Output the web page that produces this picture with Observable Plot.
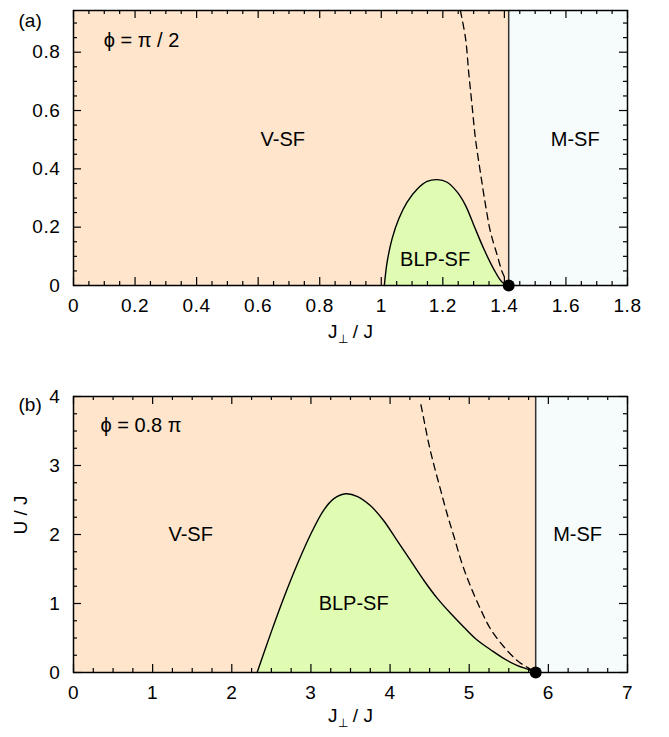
<!DOCTYPE html>
<html><head><meta charset="utf-8">
<script src="https://cdn.jsdelivr.net/npm/d3@7"></script>
<script src="https://cdn.jsdelivr.net/npm/@observablehq/plot@0.6"></script>
<style>
body{margin:0;background:#fff;}
#chart svg{display:block;}
#chart g[aria-label="x-axis tick label"] text,
#chart g[aria-label="y-axis tick label"] text{font-size:19px;letter-spacing:0.6px;}
</style>
</head><body><div id="chart"></div>
<script>
// ---------- Panel (a): phi = pi/2 ----------
const xDomainA = [0, 1.8];
const yDomainA = [0, 0.943];
const xTicksA = [0, 0.2, 0.4, 0.6, 0.8, 1, 1.2, 1.4, 1.6, 1.8];
const yTicksA = [0, 0.2, 0.4, 0.6, 0.8];
const xMinorStepA = 0.05;
const yMinorStepA = 0.05;
const boundaryA = 1.414;
const blpA_x = [1.010, 1.019, 1.035, 1.057, 1.084, 1.117, 1.149, 1.182, 1.214, 1.247, 1.274, 1.301, 1.333, 1.365, 1.393, 1.414];
const blpA_y = [0, 0.08, 0.16, 0.229, 0.286, 0.331, 0.357, 0.363, 0.354, 0.32, 0.274, 0.206, 0.126, 0.057, 0.011, 0];
const dashA_x = [1.257, 1.274, 1.284, 1.295, 1.306, 1.322, 1.339, 1.355, 1.377, 1.393, 1.414];
const dashA_y = [0.943, 0.846, 0.731, 0.617, 0.503, 0.388, 0.274, 0.183, 0.103, 0.046, 0];
const regionA_text = ["V-SF", "BLP-SF", "M-SF"];
const regionA_x = [0.68, 1.175, 1.63];
const regionA_y = [0.5, 0.09, 0.5];
const phiA_text = "ϕ = π / 2";
const phiA_pos = [0.098, 0.84];

// ---------- Panel (b): phi = 0.8 pi ----------
const xDomainB = [0, 7];
const yDomainB = [0, 4];
const xTicksB = [0, 1, 2, 3, 4, 5, 6, 7];
const yTicksB = [0, 1, 2, 3, 4];
const xMinorStepB = 0.25;
const yMinorStepB = 0.25;
const boundaryB = 5.84;
const blpB_x = [2.32, 2.49, 2.66, 2.83, 3.00, 3.16, 3.29, 3.44, 3.59, 3.75, 3.92, 4.09, 4.26, 4.43, 4.60, 4.77, 4.93, 5.10, 5.27, 5.44, 5.61, 5.76, 5.84];
const blpB_y = [0, 0.56, 1.09, 1.575, 2.01, 2.35, 2.52, 2.59, 2.55, 2.42, 2.20, 1.91, 1.62, 1.33, 1.07, 0.85, 0.66, 0.47, 0.33, 0.20, 0.10, 0.04, 0];
const dashB_x = [4.39, 4.43, 4.49, 4.56, 4.64, 4.72, 4.81, 4.91, 5.02, 5.15, 5.27, 5.44, 5.61, 5.74, 5.84];
const dashB_y = [3.88, 3.65, 3.31, 2.98, 2.64, 2.30, 1.96, 1.575, 1.24, 0.90, 0.63, 0.37, 0.17, 0.07, 0];
const regionB_text = ["V-SF", "BLP-SF", "M-SF"];
const regionB_x = [1.48, 3.54, 6.37];
const regionB_y = [2.0, 1.0, 2.0];
const phiB_text = "ϕ = 0.8 π";
const phiB_pos = [0.34, 3.58];

const xLabel = "J⊥ / J";
const yLabelB = "U / J";

const colVSF = "#fee5cb";
const colMSF = "#f6fcfc";
const colBLP = "#e0fbb2";
const FONT = "'Liberation Sans', Arial, Helvetica, sans-serif";

function minor(domain, step, majors) {
  const out = [];
  for (let v = domain[0]; v <= domain[1] + 1e-9; v += step) {
    const r = Math.round(v * 1000) / 1000;
    if (!majors.some(m => Math.abs(m - r) < 1e-6)) out.push(r);
  }
  return out;
}

function panel(cfg) {
  const W = 669, mL = 73, mR = 42;
  const plotW = W - mL - mR;
  const plotH = cfg.height - cfg.mT - cfg.mB;
  const blp = cfg.blpX.map((x, i) => ({x, y: cfg.blpY[i]}));
  const dash = cfg.dashX.map((x, i) => ({x, y: cfg.dashY[i]}));
  const regions = cfg.regText.map((t, i) => ({t, x: cfg.regX[i], y: cfg.regY[i]}));
  const xMin = minor(cfg.xDomain, cfg.xStep, cfg.xTicks);
  const yMin = minor(cfg.yDomain, cfg.yStep, cfg.yTicks);
  const xMaj = cfg.xTicks, yMaj = cfg.yTicks;
  const LM = 8, Lm = 4;
  const fmt = d => String(d);
  const marks = [
    Plot.rect([{x1: cfg.xDomain[0], x2: cfg.boundary, y1: cfg.yDomain[0], y2: cfg.yDomain[1]}], {x1: "x1", x2: "x2", y1: "y1", y2: "y2", fill: colVSF}),
    Plot.rect([{x1: cfg.boundary, x2: cfg.xDomain[1], y1: cfg.yDomain[0], y2: cfg.yDomain[1]}], {x1: "x1", x2: "x2", y1: "y1", y2: "y2", fill: colMSF}),
    Plot.areaY(blp, {x: "x", y: "y", fill: colBLP, curve: "catmull-rom"}),
    Plot.line(blp, {x: "x", y: "y", stroke: "black", strokeWidth: 1.4, curve: "catmull-rom"}),
    Plot.line(dash, {x: "x", y: "y", stroke: "black", strokeWidth: 1.3, strokeDasharray: "7,5", curve: "catmull-rom"}),
    Plot.ruleX([cfg.boundary], {x: d => d, y1: cfg.yDomain[0], y2: cfg.yDomain[1], stroke: "#333", strokeWidth: 1.5}),
    // inward ticks, bottom & top
    Plot.tickX(xMaj, {x: d => d, insetTop: plotH - LM, stroke: "black", strokeWidth: 1.2}),
    Plot.tickX(xMin, {x: d => d, insetTop: plotH - Lm, stroke: "black", strokeWidth: 1.2}),
    Plot.tickX(xMaj, {x: d => d, insetBottom: plotH - LM, stroke: "black", strokeWidth: 1.2}),
    Plot.tickX(xMin, {x: d => d, insetBottom: plotH - Lm, stroke: "black", strokeWidth: 1.2}),
    // inward ticks, left & right
    Plot.tickY(yMaj, {y: d => d, insetRight: plotW - LM, stroke: "black", strokeWidth: 1.2}),
    Plot.tickY(yMin, {y: d => d, insetRight: plotW - Lm, stroke: "black", strokeWidth: 1.2}),
    Plot.tickY(yMaj, {y: d => d, insetLeft: plotW - LM, stroke: "black", strokeWidth: 1.2}),
    Plot.tickY(yMin, {y: d => d, insetLeft: plotW - Lm, stroke: "black", strokeWidth: 1.2}),
    Plot.axisX(xMaj, {tickSize: 0, tickPadding: 13, fontSize: 19, label: null, fill: "black", tickFormat: fmt}),
    Plot.axisY(yMaj, {tickSize: 0, tickPadding: 13, fontSize: 19, label: null, fill: "black", tickFormat: fmt}),
    Plot.frame({stroke: "black", strokeWidth: 1.5}),
    Plot.text(regions, {x: "x", y: "y", text: "t", fontSize: 20, fill: "black"}),
    Plot.text([cfg.phiText], {x: () => cfg.phiPos[0], y: () => cfg.phiPos[1], text: d => d, textAnchor: "start", fontSize: 20, fill: "black"}),
    Plot.text([cfg.tag], {frameAnchor: "top-left", text: d => d, textAnchor: "start", dx: -55, dy: cfg.tagDy, fontSize: 19, fill: "black"}),
    Plot.text([xLabel], {frameAnchor: "bottom", text: d => d, dy: cfg.xLabelDy, fontSize: 19, fill: "black"}),
    Plot.dot([{x: cfg.boundary, y: 0}], {x: "x", y: "y", r: 6, fill: "black", stroke: "none"})
  ];
  if (cfg.yLabel) {
    marks.push(Plot.text([cfg.yLabel], {frameAnchor: "left", text: d => d, rotate: -90, dx: -53, fontSize: 19, fill: "black"}));
  }
  return Plot.plot({
    width: W, height: cfg.height,
    marginLeft: mL, marginRight: mR, marginTop: cfg.mT, marginBottom: cfg.mB,
    x: {domain: cfg.xDomain, axis: null},
    y: {domain: cfg.yDomain, axis: null},
    style: {fontFamily: FONT, fontSize: "19px", color: "black", background: "white", overflow: "visible"},
    marks
  });
}

const svgA = panel({
  height: 368, mT: 10, mB: 83,
  xDomain: xDomainA, yDomain: yDomainA, xTicks: xTicksA, yTicks: yTicksA,
  xStep: xMinorStepA, yStep: yMinorStepA, boundary: boundaryA,
  blpX: blpA_x, blpY: blpA_y, dashX: dashA_x, dashY: dashA_y,
  regText: regionA_text, regX: regionA_x, regY: regionA_y,
  phiText: phiA_text, phiPos: phiA_pos, tag: "(a)", tagDy: 3, xLabelDy: 52, yLabel: null
});
const svgB = panel({
  height: 369, mT: 28, mB: 65,
  xDomain: xDomainB, yDomain: yDomainB, xTicks: xTicksB, yTicks: yTicksB,
  xStep: xMinorStepB, yStep: yMinorStepB, boundary: boundaryB,
  blpX: blpB_x, blpY: blpB_y, dashX: dashB_x, dashY: dashB_y,
  regText: regionB_text, regX: regionB_x, regY: regionB_y,
  phiText: phiB_text, phiPos: phiB_pos, tag: "(b)", tagDy: 1, xLabelDy: 49, yLabel: yLabelB
});

const chart = document.getElementById("chart");
chart.appendChild(svgA);
chart.appendChild(svgB);

// render the ⊥ of the x label as a subscript
d3.selectAll("#chart text").each(function() {
  if (this.textContent === xLabel) {
    const t = d3.select(this);
    t.text(null);
    t.append("tspan").text("J");
    t.append("tspan").attr("font-size", 12).attr("dy", 5).text("⊥");
    t.append("tspan").attr("dy", -5).text(" / J");
  }
});
</script>
</body></html>
